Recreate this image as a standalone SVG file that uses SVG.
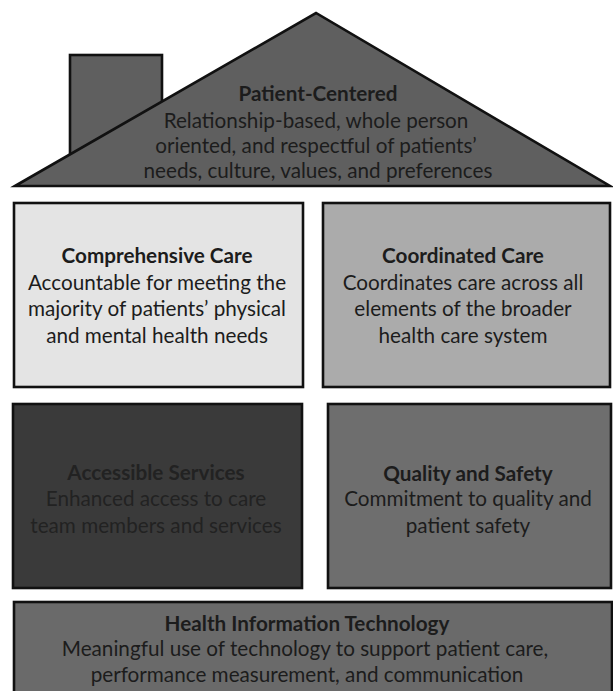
<svg xmlns="http://www.w3.org/2000/svg" width="613" height="691" viewBox="0 0 613 691">
  <style>
    .box { stroke: #111; stroke-width: 2.6; stroke-linejoin: miter; }
    .t { font-family: Lato, "Open Sans", "Liberation Sans", sans-serif; font-size: 20.7px; fill: #1c1c1c; text-anchor: middle; }
    .h { font-weight: bold; }
  </style>
  <rect width="613" height="691" fill="#ffffff"/>

  <!-- Roof with chimney -->
  <g id="patient-centered">
    <rect class="box" x="70" y="55" width="92" height="110" fill="#5f5f5f"/>
    <polygon class="box" points="15,186 316,13 610,186" fill="#5f5f5f"/>
    <text class="t h" x="318" y="101">Patient-Centered</text>
    <text class="t" x="316" y="128">Relationship-based, whole person</text>
    <text class="t" x="316" y="153">oriented, and respectful of patients’</text>
    <text class="t" x="318" y="178">needs, culture, values, and preferences</text>
  </g>

  <g id="comprehensive-care">
    <rect class="box" x="14" y="203" width="289" height="184" fill="#e4e4e4"/>
    <text class="t h" x="157" y="263">Comprehensive Care</text>
    <text class="t" x="157" y="290">Accountable for meeting the</text>
    <text class="t" x="157" y="316">majority of patients’ physical</text>
    <text class="t" x="157" y="343">and mental health needs</text>
  </g>

  <g id="coordinated-care">
    <rect class="box" x="323" y="203" width="287" height="184" fill="#ababab"/>
    <text class="t h" x="463" y="263">Coordinated Care</text>
    <text class="t" x="463" y="290">Coordinates care across all</text>
    <text class="t" x="463" y="316">elements of the broader</text>
    <text class="t" x="463" y="343">health care system</text>
  </g>

  <g id="accessible-services">
    <rect class="box" x="13" y="404" width="289" height="184" fill="#3a3a3a"/>
    <text class="t h" x="156" y="480" style="fill:#222">Accessible Services</text>
    <text class="t" x="156" y="506" style="fill:#222">Enhanced access to care</text>
    <text class="t" x="156" y="533" style="fill:#222">team members and services</text>
  </g>

  <g id="quality-safety">
    <rect class="box" x="328" y="404" width="283" height="184" fill="#6e6e6e"/>
    <text class="t h" x="468" y="481">Quality and Safety</text>
    <text class="t" x="468" y="506">Commitment to quality and</text>
    <text class="t" x="468" y="533">patient safety</text>
  </g>

  <g id="health-it">
    <rect class="box" x="14" y="602" width="598" height="100" fill="#6a6a6a"/>
    <text class="t h" x="307" y="631">Health Information Technology</text>
    <text class="t" x="305" y="656">Meaningful use of technology to support patient care,</text>
    <text class="t" x="307" y="682">performance measurement, and communication</text>
  </g>
</svg>
